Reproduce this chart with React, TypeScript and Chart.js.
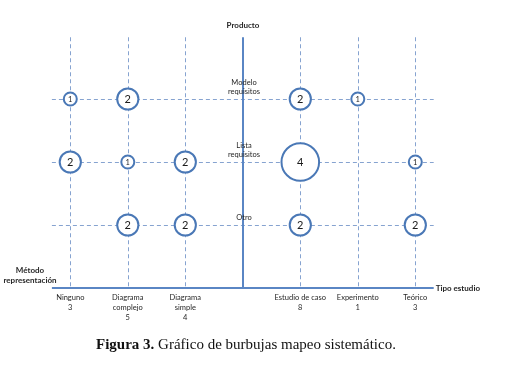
import React, { useEffect, useRef } from "react";
import { Chart, registerables } from "chart.js";

Chart.register(...registerables);

// Product categories (y axis), bottom to top
const productLabels: string[][] = [["Otro"], ["Lista", "requisitos"], ["Modelo", "requisitos"]];
// Representation methods (left of the vertical axis)
const methodLabels: string[][] = [["Ninguno"], ["Diagrama", "complejo"], ["Diagrama", "simple"]];
const methodTotals: number[] = [3, 5, 4];
// Study types (right of the vertical axis)
const studyLabels: string[][] = [["Estudio de caso"], ["Experimento"], ["Teórico"]];
const studyTotals: number[] = [8, 1, 3];
// Counts per product row (Otro, Lista requisitos, Modelo requisitos)
const methodCounts: number[][] = [
  [0, 2, 2],
  [2, 1, 2],
  [1, 2, 0],
];
const studyCounts: number[][] = [
  [2, 0, 2],
  [4, 0, 1],
  [2, 1, 0],
];

const DASH_COLOR = "#86a3d0";
const AXIS_COLOR = "#5a86c4";
const BUBBLE_COLOR = "#4a78b6";
const TEXT_COLOR = "#262626";
const LABEL_FONT = '"Lato", "Open Sans", sans-serif';

type Pt = { x: number; y: number; r: number; count: number };

function buildPoints(): Pt[] {
  const pts: Pt[] = [];
  productLabels.forEach((_, p) => {
    methodCounts[p].forEach((c, i) => {
      if (c > 0) pts.push({ x: i - methodCounts[p].length, y: p + 1, r: 2.4 + 4.1 * c, count: c });
    });
    studyCounts[p].forEach((c, i) => {
      if (c > 0) pts.push({ x: i + 1, y: p + 1, r: 2.4 + 4.1 * c, count: c });
    });
  });
  return pts;
}

const mapPlugin = {
  id: "mapPlugin",
  beforeDatasetsDraw(chart: any) {
    const { ctx } = chart;
    const xs = chart.scales.x;
    const ys = chart.scales.y;
    const xL = xs.getPixelForValue(-3.32);
    const xR = xs.getPixelForValue(3.32);
    const yB = ys.getPixelForValue(0);
    const yT = ys.getPixelForValue(3.98);
    ctx.save();
    // dashed grid
    ctx.strokeStyle = DASH_COLOR;
    ctx.lineWidth = 1;
    ctx.setLineDash([4, 3]);
    for (let p = 1; p <= productLabels.length; p++) {
      const y = Math.round(ys.getPixelForValue(p)) + 0.5;
      ctx.beginPath();
      ctx.moveTo(xL, y);
      ctx.lineTo(xR, y);
      ctx.stroke();
    }
    const xVals = [
      ...methodLabels.map((_, i) => i - methodLabels.length),
      ...studyLabels.map((_, i) => i + 1),
    ];
    xVals.forEach((v) => {
      const x = Math.round(xs.getPixelForValue(v)) + 0.5;
      ctx.beginPath();
      ctx.moveTo(x, yT);
      ctx.lineTo(x, yB);
      ctx.stroke();
    });
    // solid axes
    ctx.setLineDash([]);
    ctx.strokeStyle = AXIS_COLOR;
    ctx.lineWidth = 2;
    const x0 = Math.round(xs.getPixelForValue(0));
    ctx.beginPath();
    ctx.moveTo(x0, yT);
    ctx.lineTo(x0, yB);
    ctx.stroke();
    ctx.beginPath();
    ctx.moveTo(xL, Math.round(yB));
    ctx.lineTo(xR, Math.round(yB));
    ctx.stroke();

    // texts
    ctx.fillStyle = TEXT_COLOR;
    ctx.textAlign = "center";
    ctx.textBaseline = "middle";
    ctx.font = `bold 8px ${LABEL_FONT}`;
    ctx.fillText("Producto", x0, yT - 12);
    ctx.fillText("Método", 30, yB - 17.5);
    ctx.fillText("representación", 30, yB - 8);
    ctx.textAlign = "left";
    ctx.fillText("Tipo estudio", xR + 2, yB);

    ctx.textAlign = "center";
    ctx.font = `7.5px ${LABEL_FONT}`;
    productLabels.forEach((lines, p) => {
      const y = ys.getPixelForValue(p + 1);
      lines.forEach((ln, k) => {
        ctx.fillText(ln, x0 + 1, y - 7.5 - (lines.length - 1 - k) * 9.3);
      });
    });
    const drawX = (lines: string[], total: number, v: number) => {
      const x = xs.getPixelForValue(v);
      const all = [...lines, String(total)];
      all.forEach((ln, k) => ctx.fillText(ln, x, yB + 10 + k * 9.7));
    };
    methodLabels.forEach((l, i) => drawX(l, methodTotals[i], i - methodLabels.length));
    studyLabels.forEach((l, i) => drawX(l, studyTotals[i], i + 1));
    ctx.restore();
  },
  afterDatasetsDraw(chart: any) {
    const { ctx } = chart;
    const meta = chart.getDatasetMeta(0);
    const data = chart.data.datasets[0].data as Pt[];
    ctx.save();
    ctx.fillStyle = "#1a1a1a";
    ctx.textAlign = "center";
    ctx.textBaseline = "middle";
    meta.data.forEach((el: any, i: number) => {
      const c = data[i].count;
      ctx.font = `${c === 1 ? 7.5 : 11}px ${LABEL_FONT}`;
      ctx.fillText(String(c), el.x, el.y + 0.5);
    });
    ctx.restore();
  },
};

export default function App() {
  const ref = useRef<HTMLCanvasElement | null>(null);
  useEffect(() => {
    if (!ref.current) return;
    const chart = new Chart(ref.current, {
      type: "bubble",
      data: {
        datasets: [
          {
            data: buildPoints() as any,
            backgroundColor: "#ffffff",
            borderColor: BUBBLE_COLOR,
            borderWidth: 2,
            clip: false as any,
          },
        ],
      },
      options: {
        responsive: false,
        animation: false,
        events: [],
        layout: { autoPadding: false, padding: { left: 12.8, right: 46.2, top: 36, bottom: 78 } },
        scales: {
          x: { type: "linear", min: -4, max: 4, display: false },
          y: { type: "linear", min: 0, max: 4, display: false },
        },
        plugins: { legend: { display: false }, tooltip: { enabled: false } },
      },
      plugins: [mapPlugin],
    });
    return () => chart.destroy();
  }, []);
  return (
    <div style={{ position: "absolute", left: 0, top: 0, width: 519, height: 366, background: "#fff" }}>
      <canvas ref={ref} width={519} height={366} style={{ display: "block" }} />
      <div
        style={{
          position: "absolute",
          left: 96,
          top: 336,
          font: '15px "Liberation Serif", serif',
          lineHeight: "16px",
          whiteSpace: "nowrap",
          color: "#111",
        }}
      >
        <b>Figura 3.</b> Gráfico de burbujas mapeo sistemático.
      </div>
    </div>
  );
}
